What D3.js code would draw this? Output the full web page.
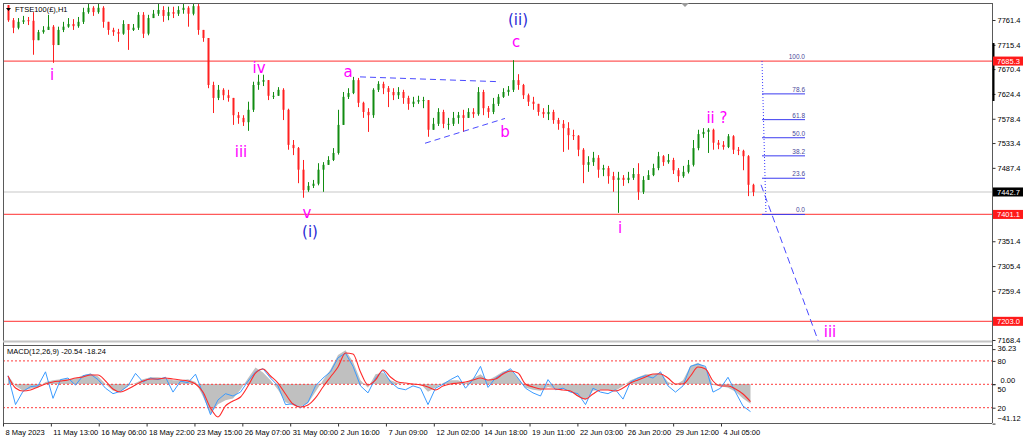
<!DOCTYPE html>
<html>
<head>
<meta charset="utf-8">
<script src="https://cdn.jsdelivr.net/npm/d3@7"></script>
<style>
  body { margin: 0; background: #ffffff; }
  svg text { font-family: "Liberation Sans", Arial, sans-serif; }
</style>
</head>
<body>
<div id="chart"></div>
<script>
// FTSE100 H1 chart with elliott wave labels and MACD panel

// candles (hourly, sampled), open = previous close
var firstOpen = 7789;
var closes = [
  7761, 7747, 7758, 7761, 7760, 7724, 7739, 7743, 7749, 7715,
  7743, 7749, 7754, 7750, 7758, 7776, 7784, 7776, 7784, 7758,
  7743, 7739, 7736, 7754, 7743, 7747, 7771, 7736, 7765, 7773,
  7780, 7769, 7776, 7773, 7780, 7784, 7773, 7787, 7743, 7728,
  7641, 7617, 7632, 7622, 7617, 7585, 7580, 7572, 7595, 7641,
  7647, 7650, 7621, 7621, 7632, 7595, 7530, 7524, 7484, 7446,
  7454, 7458, 7484, 7493, 7502, 7515, 7567, 7619, 7626, 7650,
  7608, 7591, 7585, 7632, 7643, 7635, 7628, 7622, 7628, 7617,
  7606, 7610, 7613, 7613, 7558, 7569, 7591, 7569, 7569, 7580,
  7585, 7580, 7591, 7587, 7628, 7598, 7591, 7606, 7619, 7628,
  7632, 7650, 7641, 7622, 7610, 7606, 7591, 7587, 7591, 7576,
  7569, 7561, 7548, 7547, 7521, 7493, 7498, 7506, 7484, 7487,
  7472, 7465, 7469, 7465, 7469, 7476, 7443, 7465, 7474, 7487,
  7509, 7498, 7502, 7483, 7472, 7480, 7493, 7524, 7550, 7554,
  7558, 7534, 7530, 7526, 7546, 7521, 7519, 7509, 7456, 7442.7
];
var highs = [
  7789, 7765, 7765, 7769, 7767, 7776, 7743, 7750, 7771, 7752,
  7749, 7758, 7765, 7763, 7767, 7784, 7793, 7787, 7793, 7787,
  7758, 7747, 7745, 7761, 7754, 7754, 7776, 7776, 7771, 7780,
  7791, 7787, 7786, 7786, 7787, 7791, 7787, 7793, 7791, 7743,
  7728, 7647, 7641, 7635, 7632, 7617, 7591, 7585, 7610, 7647,
  7660, 7660, 7650, 7628, 7637, 7635, 7597, 7539, 7526, 7502,
  7461, 7465, 7496, 7498, 7509, 7524, 7595, 7628, 7635, 7656,
  7654, 7610, 7598, 7635, 7648, 7647, 7639, 7635, 7637, 7632,
  7621, 7619, 7621, 7619, 7613, 7580, 7598, 7595, 7580, 7591,
  7591, 7595, 7598, 7598, 7637, 7632, 7602, 7617, 7624, 7635,
  7639, 7687, 7661, 7643, 7625, 7619, 7606, 7598, 7604, 7595,
  7580, 7576, 7572, 7558, 7548, 7524, 7509, 7517, 7511, 7493,
  7491, 7480, 7480, 7474, 7480, 7487, 7496, 7472, 7483, 7495,
  7517, 7511, 7513, 7506, 7487, 7491, 7502, 7539, 7558, 7561,
  7561, 7560, 7539, 7537, 7550, 7548, 7526, 7521, 7511, 7458
];
var lows = [
  7758, 7737, 7744, 7754, 7752, 7697, 7724, 7736, 7743, 7682,
  7724, 7739, 7747, 7743, 7747, 7754, 7773, 7769, 7773, 7747,
  7734, 7732, 7721, 7734, 7706, 7741, 7743, 7728, 7733, 7765,
  7769, 7758, 7761, 7765, 7769, 7773, 7749, 7770, 7734, 7721,
  7635, 7589, 7613, 7613, 7610, 7567, 7569, 7565, 7556, 7591,
  7632, 7639, 7613, 7615, 7621, 7576, 7521, 7511, 7459, 7432,
  7443, 7450, 7455, 7443, 7493, 7500, 7512, 7567, 7615, 7624,
  7600, 7580, 7554, 7580, 7628, 7624, 7600, 7613, 7615, 7606,
  7595, 7600, 7606, 7598, 7545, 7558, 7565, 7561, 7558, 7565,
  7569, 7554, 7580, 7580, 7584, 7585, 7580, 7587, 7602, 7617,
  7621, 7628, 7632, 7615, 7602, 7595, 7584, 7580, 7576, 7569,
  7558, 7517, 7521, 7539, 7509, 7459, 7480, 7491, 7469, 7472,
  7458, 7443, 7404, 7454, 7459, 7465, 7428, 7439, 7465, 7472,
  7483, 7491, 7495, 7476, 7461, 7469, 7477, 7490, 7520, 7543,
  7515, 7521, 7522, 7521, 7524, 7513, 7511, 7483, 7435, 7435
];

// price axis (labels hidden behind the markers are left out)
var priceTicks = [7761.4, 7715.4, 7670.4, 7624.4, 7578.4, 7533.4, 7487.4,
                  7351.4, 7305.4, 7259.4, 7168.4];
var levelPrices = [7685.3, 7401.1, 7203.0];
var bidPrice = 7442.7;

// time axis
var dateLabels = ["8 May 2023", "11 May 13:00", "16 May 06:00", "18 May 22:00", "23 May 15:00",
                  "26 May 07:00", "31 May 00:00", "2 Jun 16:00", "7 Jun 09:00", "12 Jun 02:00",
                  "14 Jun 18:00", "19 Jun 11:00", "22 Jun 03:00", "26 Jun 20:00", "29 Jun 12:00",
                  "4 Jul 05:00"];

// wave count labels (bar index, price)
var waveText  = ["i", "iii", "iv", "v", "(i)", "a", "b", "c", "(ii)", "i", "ii ?", "iii"];
var waveBar   = [8.8, 46.6, 50.2, 59.8, 60.4, 68, 99.4, 101.6, 102, 122.4, 141.8, 164.4];
var wavePrice = [7650, 7508, 7663, 7394, 7359, 7656, 7545, 7711, 7752, 7367, 7571, 7174];

// drawn lines (bar index, price)
var triangleTop = [[70.4, 7656], [98.4, 7647]];
var triangleBottom = [[83.4, 7533], [99.4, 7579]];
var projection = [[150.6, 7456], [162.2, 7163]];

// fibonacci retracement
var fibHigh = 7685.3;
var fibLow = 7401.1;
var fibBars = [150.8, 151.6, 159.4];
var fibLevels = [0, 23.6, 38.2, 50, 61.8, 78.6, 100];

// MACD(12,26,9) main, signal and the blue oscillator (0-100)
var macdMain = [
  9, -2, -7, -5, -4, 2, 4, 5, 5, 6,
  9, 11, 8, 0, -7, -8, -2, 1, 5, 7,
  7, 6, 4, 4, 5, 2, -13, -31, -21, -17,
  -15, -6, 6, 17, 12, 4, -6, -19, -22, -23,
  -20, -8, 4, 15, 30, 35, 23, 4, -4, 10,
  12, 4, 1, 0, -1, 0, -8, -4, 1, 4,
  4, 1, 6, 10, 4, 8, 13, 15, 6, -4,
  -6, -7, -3, -5, -5, -8, -13, -17, -7, -6,
  -6, -7, -2, 4, 7, 10, 10, 12, 2, -1,
  4, 19, 22, 17, -1, -2, -4, -8, -15, -20.54
];
var macdSignal = [
  8.3, -4.2, -7.3, -6.2, -3.1, 0, 2.1, 3.1, 4.2, 6.2,
  7.3, 9.3, 9.3, 3.1, -5.2, -8.3, -5.2, -1, 3.1, 5.2,
  5.2, 6.2, 5.2, 4.2, 3.1, 0, -8.3, -24.9, -34.3, -22.8,
  -17.6, -13.5, -2.1, 11.4, 15.6, 8.3, 1, -10.4, -20.8, -23.9,
  -21.8, -14.5, -3.1, 7.3, 17.6, 32.2, 31.1, 12.5, -1, 4.2,
  14.5, 7.3, 2.1, 1, 0, -1, -3.1, -6.2, -2.1, 0,
  1, 2.1, 4.2, 6.2, 4.2, 5.2, 10.4, 13.5, 11.4, 0,
  -3.1, -5.2, -5.2, -5.2, -6.2, -7.3, -12.5, -15.6, -10.4, -6.2,
  -6.2, -7.3, -4.2, 1, 4.2, 7.3, 10.4, 10.4, 6.2, 0,
  0, 8.3, 17.6, 15.6, 3.1, -2.1, -2.1, -5.2, -10.4, -18.24
];
var oscValues = [
  61, 24, 41, 47, 48, 66, 32, 56, 58, 49,
  61, 63, 56, 45, 38, 41, 48, 64, 53, 58,
  56, 59, 40, 54, 52, 63, 38, 11, 30, 38,
  35, 40, 54, 66, 70, 58, 48, 24, 25, 20,
  27, 48, 58, 66, 84, 90, 73, 48, 39, 58,
  68, 53, 45, 43, 48, 45, 24, 45, 50, 56,
  61, 45, 56, 73, 46, 58, 64, 70, 58, 45,
  39, 35, 56, 43, 45, 40, 38, 24, 45, 40,
  38, 43, 31, 53, 58, 61, 58, 66, 48, 40,
  48, 73, 76, 73, 40, 45, 59, 40, 22, 15
];
var oscLevels = [80, 50, 20];
var macdTicks = [36.23, 0, -41.12];

function drawChart() {

  var svgWidth = 1024;
  var svgHeight = 441;

  // panel edges
  var left = 3, right = 992;
  var priceTop = 3, priceBottom = 341;
  var macdTop = 345, macdBottom = 423;

  var svg = d3.select("#chart")
    .append("svg")
    .attr("width", svgWidth)
    .attr("height", svgHeight)
    .style("display", "block");

  svg.append("rect").attr("width", svgWidth).attr("height", svgHeight).attr("fill", "#ffffff");

  var defs = svg.append("defs");
  defs.append("clipPath").attr("id", "priceClip")
    .append("rect").attr("x", left).attr("y", priceTop)
    .attr("width", right - left).attr("height", priceBottom - priceTop);
  defs.append("clipPath").attr("id", "macdClip")
    .append("rect").attr("x", left).attr("y", macdTop)
    .attr("width", right - left).attr("height", macdBottom - macdTop);

  // Step 1: scales
  var xBar = d3.scaleLinear().domain([0, closes.length - 1]).range([8, 753]);
  var yPrice = d3.scaleLinear().domain([7168.4, 7761.4]).range([340, 20]);
  var xMacd = d3.scaleLinear().domain([0, macdMain.length - 1]).range([8, 750.5]);
  var yMacd = d3.scaleLinear().domain([-41.12, 36.23]).range([423.6, 349.1]);
  var yOsc = d3.scaleLinear().domain([0, 100]).range([423.3, 345.3]);
  var xDate = d3.scaleLinear().domain([0, dateLabels.length - 1]).range([3, 721]);

  var pricePane = svg.append("g").attr("clip-path", "url(#priceClip)");
  var macdPane = svg.append("g").attr("clip-path", "url(#macdClip)");

  // Step 2: horizontal levels
  pricePane.append("line")
    .attr("x1", left).attr("x2", right)
    .attr("y1", yPrice(bidPrice)).attr("y2", yPrice(bidPrice))
    .attr("stroke", "#c8c8c8").attr("stroke-width", 1.2);

  pricePane.selectAll(".level")
    .data(levelPrices)
    .enter()
    .append("line")
    .attr("class", "level")
    .attr("x1", left).attr("x2", right)
    .attr("y1", d => yPrice(d)).attr("y2", d => yPrice(d))
    .attr("stroke", "#ff5a5a").attr("stroke-width", 1.3);

  // Step 3: candles
  var candles = closes.map(function(c, i) {
    var o = i === 0 ? firstOpen : closes[i - 1];
    return {
      i: i, o: o, c: c,
      h: Math.max(highs[i], o, c),
      l: Math.min(lows[i], o, c)
    };
  });
  var upColor = "#118c11", downColor = "#ff2020";

  pricePane.selectAll(".wick")
    .data(candles)
    .enter()
    .append("line")
    .attr("class", "wick")
    .attr("x1", d => xBar(d.i) + 0.5).attr("x2", d => xBar(d.i) + 0.5)
    .attr("y1", d => yPrice(d.h)).attr("y2", d => yPrice(d.l))
    .attr("stroke", d => d.c >= d.o ? upColor : downColor)
    .attr("stroke-width", 1);

  pricePane.selectAll(".body")
    .data(candles)
    .enter()
    .append("rect")
    .attr("class", "body")
    .attr("x", d => xBar(d.i) - 0.5)
    .attr("width", 2)
    .attr("y", d => yPrice(Math.max(d.o, d.c)))
    .attr("height", d => Math.max(1, Math.abs(yPrice(d.o) - yPrice(d.c))))
    .attr("fill", d => d.c >= d.o ? upColor : downColor);

  // Step 4: drawn lines
  var lineGen = d3.line().x(d => xBar(d[0])).y(d => yPrice(d[1]));
  [triangleTop, triangleBottom].forEach(function(pts) {
    pricePane.append("path")
      .attr("d", lineGen(pts))
      .attr("fill", "none").attr("stroke", "#4a4aff")
      .attr("stroke-width", 1).attr("stroke-dasharray", "6,4");
  });
  pricePane.append("path")
    .attr("d", lineGen(projection))
    .attr("fill", "none").attr("stroke", "#4a4aff")
    .attr("stroke-width", 1).attr("stroke-dasharray", "7,4");

  // fibonacci tool
  pricePane.append("line")
    .attr("x1", xBar(fibBars[0])).attr("y1", yPrice(fibHigh))
    .attr("x2", xBar(fibBars[1])).attr("y2", yPrice(fibLow))
    .attr("stroke", "#3535ff").attr("stroke-width", 1).attr("stroke-dasharray", "1,2");

  var fibGroup = pricePane.selectAll(".fib")
    .data(fibLevels)
    .enter()
    .append("g")
    .attr("class", "fib");
  fibGroup.append("line")
    .attr("x1", xBar(fibBars[0])).attr("x2", xBar(fibBars[2]))
    .attr("y1", d => yPrice(fibLow + (fibHigh - fibLow) * d / 100))
    .attr("y2", d => yPrice(fibLow + (fibHigh - fibLow) * d / 100))
    .attr("stroke", "#3b3bf0").attr("stroke-width", 1)
    .attr("opacity", d => d === 100 ? 0 : 1);
  fibGroup.append("text")
    .attr("x", xBar(fibBars[2]))
    .attr("y", d => yPrice(fibLow + (fibHigh - fibLow) * d / 100) - 2)
    .attr("text-anchor", "end")
    .attr("font-size", "6.5px")
    .attr("fill", "#4a4a9a")
    .text(d => d3.format(".1f")(d));

  // Step 5: wave labels
  svg.selectAll(".wave")
    .data(waveText)
    .enter()
    .append("text")
    .attr("class", "wave")
    .attr("x", (d, i) => xBar(waveBar[i]))
    .attr("y", (d, i) => yPrice(wavePrice[i]))
    .attr("text-anchor", "middle")
    .attr("font-size", "15px")
    .style("font-family", "'DejaVu Sans', sans-serif")
    .attr("fill", d => d.charAt(0) === "(" ? "#2b2bd6" : "#ff00ff")
    .text(d => d);

  // Step 6: MACD panel
  macdPane.append("path")
    .datum(macdMain)
    .attr("d", d3.area()
      .x((d, i) => xMacd(i))
      .y0(yMacd(0))
      .y1(d => yMacd(d)))
    .attr("fill", "#c0c0c0");

  macdPane.selectAll(".osclevel")
    .data(oscLevels)
    .enter()
    .append("line")
    .attr("class", "osclevel")
    .attr("x1", left).attr("x2", right)
    .attr("y1", d => yOsc(d)).attr("y2", d => yOsc(d))
    .attr("stroke", "#ff3b3b").attr("stroke-width", 1).attr("stroke-dasharray", "2,2");

  macdPane.append("path")
    .datum(oscValues)
    .attr("d", d3.line().x((d, i) => xMacd(i)).y(d => yOsc(d)))
    .attr("fill", "none").attr("stroke", "#3b9bff").attr("stroke-width", 1);

  macdPane.append("path")
    .datum(macdSignal)
    .attr("d", d3.line().x((d, i) => xMacd(i)).y(d => yMacd(d)).curve(d3.curveMonotoneX))
    .attr("fill", "none").attr("stroke", "#ff2a2a").attr("stroke-width", 1.1);

  svg.append("text")
    .attr("x", 7).attr("y", 354)
    .attr("font-size", "7.5px").attr("fill", "#000")
    .text("MACD(12,26,9) -20.54 -18.24");

  // Step 7: frames
  var frame = "#5a5a5a";
  svg.append("line").attr("x1", left + 0.5).attr("x2", left + 0.5).attr("y1", priceTop).attr("y2", macdBottom).attr("stroke", frame);
  svg.append("line").attr("x1", left).attr("x2", right).attr("y1", priceTop + 0.5).attr("y2", priceTop + 0.5).attr("stroke", frame);
  svg.append("line").attr("x1", right + 0.5).attr("x2", right + 0.5).attr("y1", priceTop).attr("y2", macdBottom).attr("stroke", frame);
  svg.append("line").attr("x1", left).attr("x2", right).attr("y1", priceBottom + 0.5).attr("y2", priceBottom + 0.5).attr("stroke", "#c4c4c4").attr("stroke-width", 2);
  svg.append("line").attr("x1", left).attr("x2", right).attr("y1", macdTop + 0.5).attr("y2", macdTop + 0.5).attr("stroke", frame);
  svg.append("line").attr("x1", left).attr("x2", right).attr("y1", macdBottom + 0.5).attr("y2", macdBottom + 0.5).attr("stroke", frame);

  // top marker and title
  svg.append("path").attr("d", "M681,3 L689,3 L685,7 Z").attr("fill", "#9a9a9a");
  svg.append("path").attr("d", "M6,8 L11,8 L8.5,11 Z").attr("fill", "#000");
  svg.append("text")
    .attr("x", 15).attr("y", 12)
    .attr("font-size", "7.5px").attr("fill", "#000")
    .text("FTSE100(£),H1");

  // Step 8: axes
  var priceAxis = svg.append("g")
    .attr("transform", `translate(${right + 0.5}, 0)`)
    .call(d3.axisRight(yPrice).tickValues(priceTicks).tickSize(3).tickPadding(2).tickFormat(d3.format(".1f")));
  priceAxis.select(".domain").remove();

  var macdAxis = svg.append("g")
    .attr("transform", `translate(${right + 0.5}, 0)`)
    .call(d3.axisRight(yMacd).tickValues(macdTicks).tickSize(3).tickPadding(2).tickFormat(d3.format(".2f")));
  macdAxis.select(".domain").remove();
  macdAxis.selectAll(".tick text")
    .attr("dy", d => d < 0 ? "-0.35em" : d > 0 ? "0.2em" : "-0.2em")
    .attr("x", d => d === 0 ? 8 : 5);

  var oscAxis = svg.append("g")
    .attr("transform", `translate(${right + 0.5}, 0)`)
    .call(d3.axisRight(yOsc).tickValues(oscLevels).tickSize(3).tickPadding(2));
  oscAxis.select(".domain").remove();
  oscAxis.selectAll(".tick text")
    .attr("dy", d => d === 50 ? "0.95em" : "0.32em");

  var dateAxis = svg.append("g")
    .attr("transform", `translate(0, ${macdBottom + 0.5})`)
    .call(d3.axisBottom(xDate).tickValues(d3.range(dateLabels.length)).tickSize(3).tickPadding(3)
      .tickFormat(i => dateLabels[i]));
  dateAxis.select(".domain").remove();
  dateAxis.selectAll(".tick text").attr("text-anchor", "start").attr("x", 2);

  svg.selectAll(".tick text").attr("font-size", "7.5px").attr("fill", "#000")
    .style("font-family", "'Liberation Sans', Arial, sans-serif");
  svg.selectAll(".tick line").attr("stroke", "#333");

  // scale bar on the price axis
  svg.append("line")
    .attr("x1", right + 1.5).attr("x2", right + 1.5)
    .attr("y1", 43).attr("y2", 101)
    .attr("stroke", "#000").attr("stroke-width", 2);

  // Step 9: price markers
  var markers = levelPrices.map(p => ({ price: p, fill: "#ff1a1a" }));
  markers.push({ price: bidPrice, fill: "#000000" });
  var markerGroup = svg.selectAll(".marker")
    .data(markers)
    .enter()
    .append("g")
    .attr("class", "marker")
    .attr("transform", d => `translate(${right + 1}, ${yPrice(d.price)})`);
  markerGroup.append("rect")
    .attr("x", 0).attr("y", -4.5)
    .attr("width", 30).attr("height", 9)
    .attr("fill", d => d.fill);
  markerGroup.append("text")
    .attr("x", 4).attr("y", 2.7)
    .attr("font-size", "7.5px").attr("fill", "#ffffff")
    .text(d => d3.format(".1f")(d.price));
}

drawChart();
</script>
</body>
</html>
